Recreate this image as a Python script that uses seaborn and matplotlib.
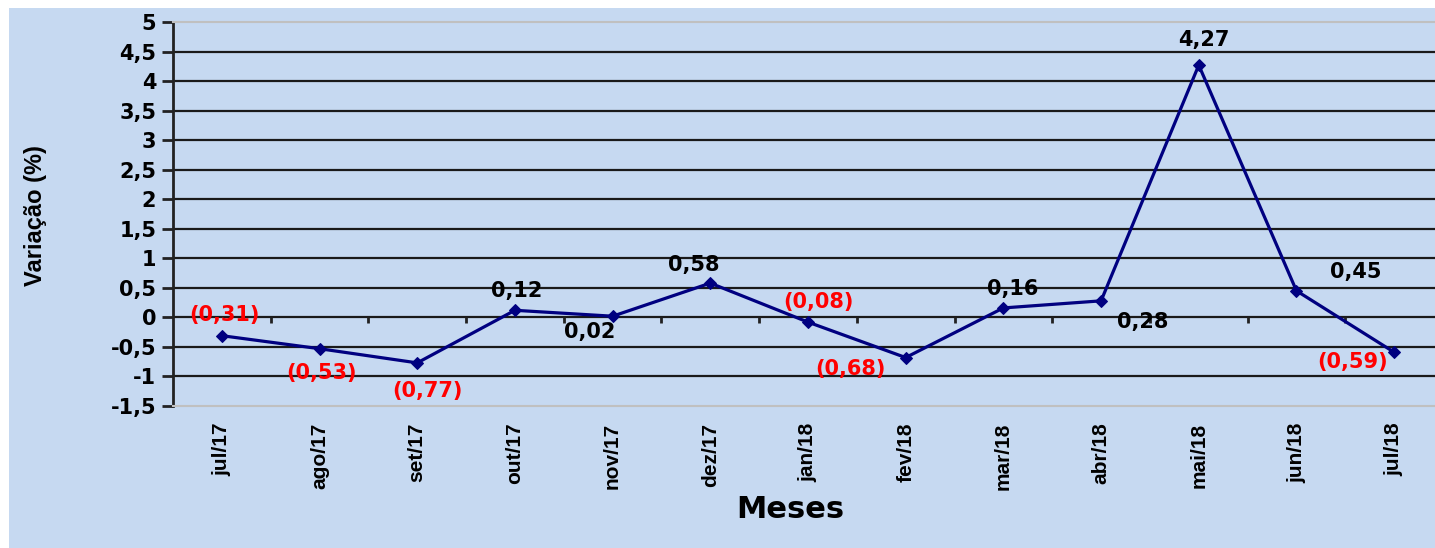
import numpy as np
import pandas as pd
import matplotlib
matplotlib.use("Agg")
import matplotlib.pyplot as plt
import seaborn as sns
from matplotlib.patches import Rectangle

meses = ["jul/17", "ago/17", "set/17", "out/17", "nov/17", "dez/17", "jan/18",
         "fev/18", "mar/18", "abr/18", "mai/18", "jun/18", "jul/18"]
variacao = [-0.31, -0.53, -0.77, 0.12, 0.02, 0.58, -0.08,
            -0.68, 0.16, 0.28, 4.27, 0.45, -0.59]
y_ticks = [-1.5, -1, -0.5, 0, 0.5, 1, 1.5, 2, 2.5, 3, 3.5, 4, 4.5, 5]

# deslocamento dos rótulos de dados (pixels)
label_offsets = [(3, 21), (2, -24), (10, -28), (2, 19), (-23, -16), (-17, 18), (10, 20),
                 (-55, -11), (9, 19), (42, -21), (5, 25), (59, 19), (-42, -10)]

azul = "#C6D9F1"

df = pd.DataFrame({"mes": meses, "variacao": variacao})

plt.rcParams['font.family'] = ['DejaVu Sans']

fig = plt.figure(figsize=(14.35, 5.48), dpi=100)
fig.patch.set_facecolor("white")
fig.patches.append(Rectangle((9 / 1435, 0), 1, 540 / 548, transform=fig.transFigure,
                             facecolor=azul, edgecolor="none", zorder=-10))

ax = fig.add_axes([173 / 1435, 142 / 548, 1270 / 1435, 384 / 548])
ax.set_facecolor(azul)
ax.set_zorder(5)

sns.lineplot(data=df, x="mes", y="variacao", sort=False, ax=ax, color="#000080",
             linewidth=2.3, marker="D", markersize=6, markeredgecolor="#000080", zorder=5)

ax.set_xlim(-0.5, len(meses) - 0.5)
ax.set_ylim(-1.5, 5)

ax.set_yticks(y_ticks)
ax.set_yticklabels([f"{v:g}".replace(".", ",") for v in y_ticks],
                   fontsize=15, fontweight="bold")
ax.tick_params(axis="y", length=8, width=2, color="#222222", pad=4)

ax.set_xticks(range(len(meses)))
ax.set_xticklabels(meses, rotation=90, fontsize=15, fontweight="bold",
                   family=["Liberation Sans Narrow", "Liberation Sans"])
ax.tick_params(axis="x", length=0, pad=12)

ax.grid(axis="y", color="#1a1a1a", linewidth=1.6)
ax.grid(axis="x", visible=False)
gl = ax.yaxis.get_gridlines()
gl[0].set_visible(False)
gl[-1].set_visible(False)
ax.set_axisbelow(True)

for s in ["top", "bottom"]:
    ax.spines[s].set_color("#C0C0C0")
    ax.spines[s].set_linewidth(1.5)
ax.spines["right"].set_visible(False)
ax.spines["left"].set_color("#222222")
ax.spines["left"].set_linewidth(2)

# marcas no eixo zero entre categorias
ax.vlines(np.arange(len(meses) - 1) + 0.5, -0.1, 0, color="#222222", linewidth=2, zorder=3)

for i, v in enumerate(variacao):
    txt = f"{v:.2f}".replace(".", ",") if v >= 0 else "(" + f"{-v:.2f}".replace(".", ",") + ")"
    cor = "black" if v >= 0 else "#FF0000"
    ax.annotate(txt, (i, v), xytext=label_offsets[i], textcoords="offset pixels",
                ha="center", va="center", fontsize=15, fontweight="bold", color=cor, zorder=6)

ax.set_xlabel("Meses", fontsize=22, fontweight="bold", va="center")
ax.xaxis.set_label_coords((790 - 173) / 1270, (406 - 510) / 384)
ax.set_ylabel("Variação (%)", fontsize=17, fontweight="bold", va="center",
              family=["Liberation Sans Narrow", "Liberation Sans"])
ax.yaxis.set_label_coords((35 - 173) / 1270, (406 - 216) / 384)

fig.savefig("out.png", dpi=100, facecolor=fig.get_facecolor())
